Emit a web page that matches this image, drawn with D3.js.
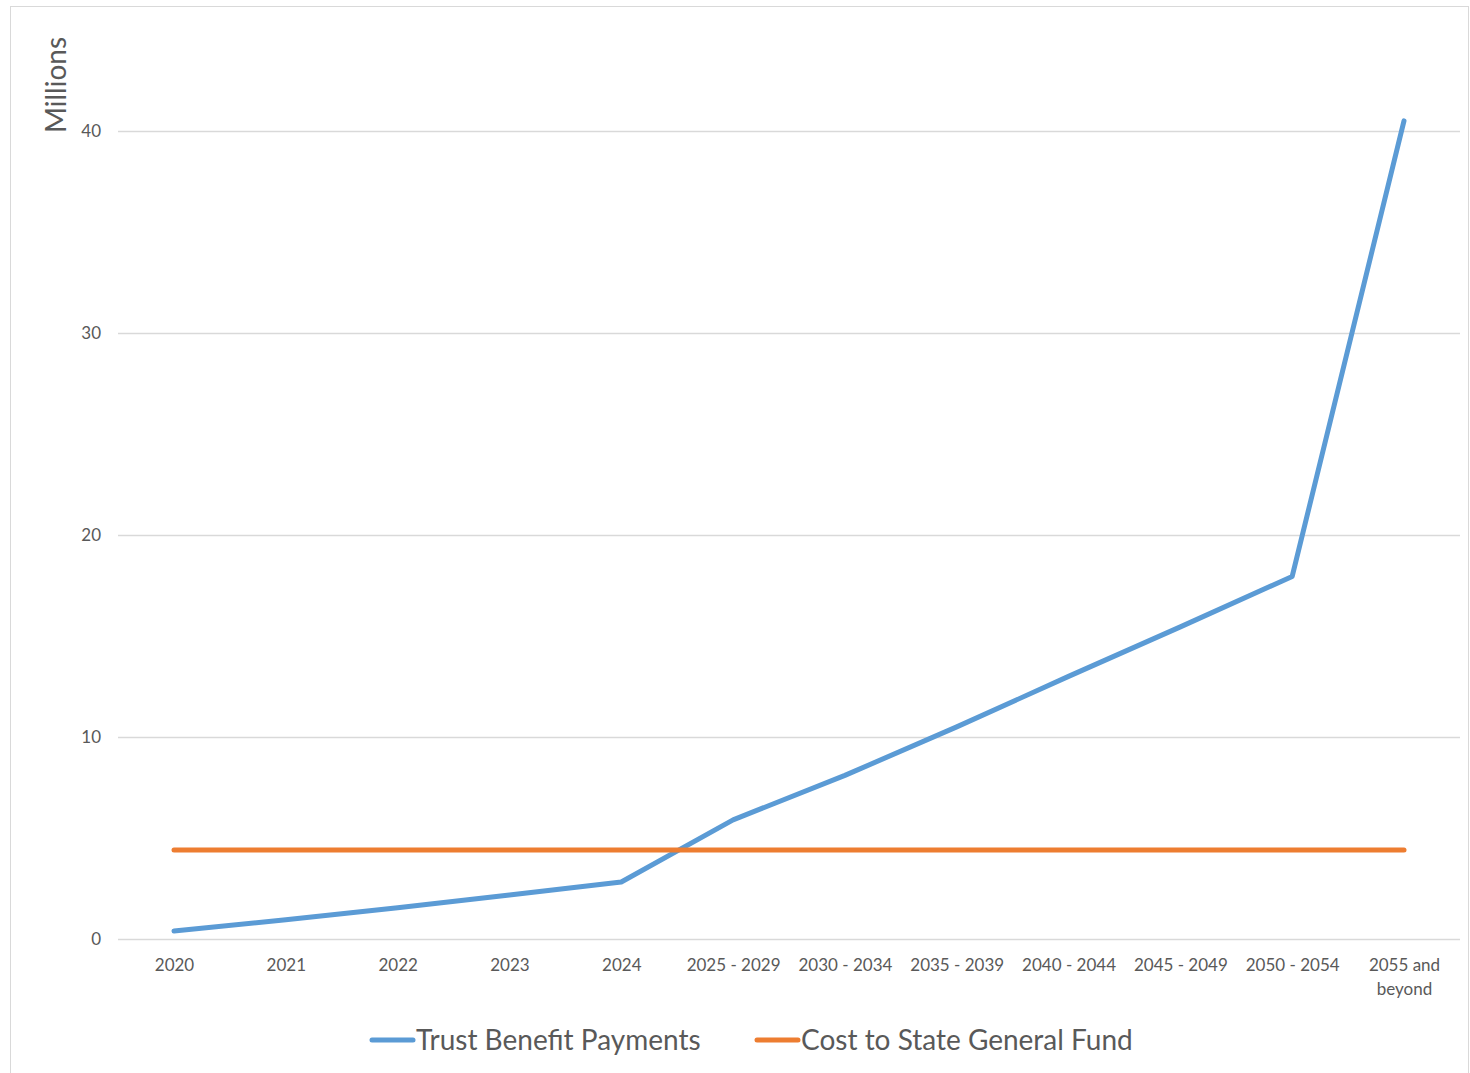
<!DOCTYPE html>
<html><head><meta charset="utf-8">
<script src="https://cdn.jsdelivr.net/npm/d3@7"></script>
<style>body{margin:0;background:#fff}svg{display:block}</style>
</head><body>
<svg id="c" width="1470" height="1073"></svg>
<script>
const categories = ["2020","2021","2022","2023","2024","2025 - 2029","2030 - 2034","2035 - 2039","2040 - 2044","2045 - 2049","2050 - 2054","2055 and beyond"];
const trustBenefitPayments = [0.4, 0.95, 1.55, 2.18, 2.82, 5.9, 8.1, 10.5, 13.0, 15.45, 17.95, 40.5];
const costToStateGeneralFund = [4.4, 4.4, 4.4, 4.4, 4.4, 4.4, 4.4, 4.4, 4.4, 4.4, 4.4, 4.4];
const yTicks = [0, 10, 20, 30, 40];
const seriesNames = ["Trust Benefit Payments", "Cost to State General Fund"];
const colors = ["#5B9BD5", "#ED7D31"];

const svg = d3.select("#c");
const font = "Lato, 'Open Sans', sans-serif";
const textColor = "#595959";

// outer frame
svg.append("rect").attr("x",10.5).attr("y",6.5).attr("width",1458).attr("height",1080)
  .attr("fill","none").attr("stroke","#d9d9d9").attr("stroke-width",1);

const x = d3.scalePoint().domain(categories).range([174, 1404]);
const y = d3.scaleLinear().domain([0, 40]).range([939, 131]);

// gridlines
svg.append("g").selectAll("line").data(yTicks).join("line")
  .attr("x1",118).attr("x2",1460)
  .attr("y1",d=>Math.round(y(d))+0.5).attr("y2",d=>Math.round(y(d))+0.5)
  .attr("stroke","#d9d9d9").attr("stroke-width",1.3);

// y axis labels
const yAxis = d3.axisLeft(y).tickValues(yTicks).tickSize(0).tickPadding(0);
const yg = svg.append("g").attr("transform","translate(101,0)").call(yAxis);
yg.select(".domain").remove();
yg.selectAll("text").attr("font-family",font).attr("font-size",17).attr("fill",textColor).attr("dy","0.35em");

// x axis labels
const xAxis = d3.axisBottom(x).tickSize(0).tickPadding(0);
const xg = svg.append("g").attr("transform","translate(0,939)").call(xAxis);
xg.select(".domain").remove();
xg.selectAll("text").each(function(d){
  const t = d3.select(this).text("").attr("font-family",font).attr("font-size",17).attr("fill",textColor).attr("dy",null).attr("y",0);
  const lines = d === "2055 and beyond" ? ["2055 and","beyond"] : [d];
  lines.forEach((ln,i)=>t.append("tspan").attr("x",0).attr("y",32+i*24).text(ln));
});

// y title
svg.append("text").attr("transform","translate(66,85) rotate(-90)")
  .attr("text-anchor","middle").attr("font-family",font).attr("font-size",28).attr("fill",textColor).text("Millions");

// lines
const line = d3.line().x((d,i)=>x(categories[i])).y(d=>y(d));
[trustBenefitPayments, costToStateGeneralFund].forEach((s,i)=>{
  svg.append("path").datum(s).attr("d",line).attr("fill","none")
    .attr("stroke",colors[i]).attr("stroke-width",5).attr("stroke-linejoin","round").attr("stroke-linecap","round");
});

// legend
const legendX = [370, 755];
seriesNames.forEach((n,i)=>{
  const g = svg.append("g").attr("transform",`translate(${legendX[i]},1040)`);
  g.append("line").attr("x1",2).attr("x2",43).attr("y1",0).attr("y2",0)
    .attr("stroke",colors[i]).attr("stroke-width",5).attr("stroke-linecap","round");
  g.append("text").attr("x",46).attr("y",0).attr("dy","0.35em")
    .attr("font-family",font).attr("font-size",28).attr("fill",textColor).text(n);
});
</script>
</body></html>
